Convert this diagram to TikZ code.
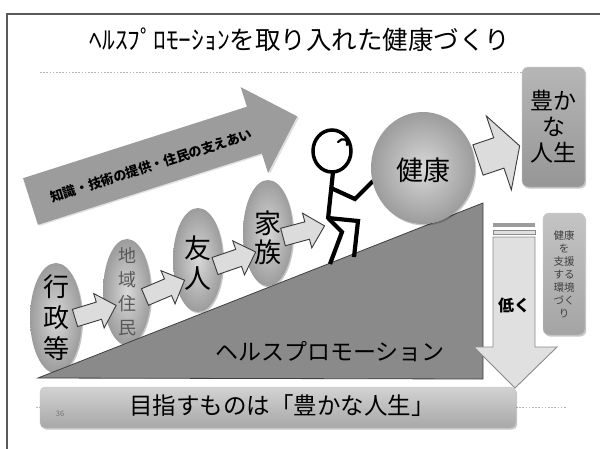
\documentclass[tikz,border=0pt]{standalone}
\usepackage{fontspec}
\setmainfont{Noto Sans CJK JP}
\usetikzlibrary{shapes.geometric,shadows}
\definecolor{framegray}{HTML}{5A5A5A}
\definecolor{dotgray}{HTML}{B4B4B4}
\definecolor{bandfill}{HTML}{9C9C9C}
\definecolor{ovalin}{HTML}{D8D8D8}
\definecolor{ovalout}{HTML}{9C9C9C}
\definecolor{rampfill}{HTML}{8A8A8A}
\definecolor{arrowface}{HTML}{DCDCDC}
\definecolor{arrowedge}{HTML}{3A3A3A}
\definecolor{boxtop}{HTML}{B6B6B6}
\definecolor{boxbottom}{HTML}{969696}
\definecolor{envtop}{HTML}{C4C4C4}
\definecolor{envbottom}{HTML}{A4A4A4}
\definecolor{bartop}{HTML}{D2D2D2}
\definecolor{barbottom}{HTML}{A8A8A8}
\definecolor{lowfill}{HTML}{E0E0E0}
\definecolor{lowedge}{HTML}{8A8A8A}

\begin{document}
\begin{tikzpicture}[x=1pt,y=-1pt,
  softshadow/.style={drop shadow={shadow xshift=1.2pt,shadow yshift=-1.5pt,opacity=.22,fill=black}},
  oval/.style={ellipse,inner sep=0pt,shading=radial,inner color=ovalin,outer color=ovalout,softshadow},
  ovaltext/.style={align=center,inner sep=0pt},
  facearrow/.style={fill=arrowface,draw=arrowedge,line width=0.9pt,line join=miter},
  roundbox/.style={rectangle,rounded corners=6pt,inner sep=0pt,top color=boxtop,bottom color=boxbottom,draw=gray!40,softshadow,align=center},
  dotrule/.style={dotgray,line width=0.8pt,dash pattern=on 1.6pt off 1.6pt},
  limb/.style={line width=4.2pt,line join=miter,line cap=butt},
  pics/blockarrow/.style n args={4}{code={
    \path[facearrow] (0,-#2) -- (#1-#4,-#2) -- (#1-#4,-#3) -- (#1,0)
      -- (#1-#4,#3) -- (#1-#4,#2) -- (0,#2) -- cycle;}}
]
\useasboundingbox (0,0) rectangle (600,448);
\fill[white] (0,0) rectangle (600,448);

% slide frame
\draw[framegray,line width=1.3pt] (7,450) -- (7,14) -- (602,14);

% title and rules
\node[font=\fontsize{25.5}{30}\selectfont] (title) at (300,40) {ﾍﾙｽﾌﾟﾛﾓｰｼｮﾝを取り入れた健康づくり};
\draw[dotrule] (40,72) -- (522,72);
\draw[dotrule] (36,407) -- (567,407);

% wide diagonal arrow
\begin{scope}[shift={(30.5,201.5)},rotate=17.7]
  \path[fill=black,opacity=.12] (1.5,-23) -- (236.5,-23) -- (236.5,-43.5) -- (281.5,1.5)
    -- (236.5,46.5) -- (236.5,26) -- (1.5,26) -- cycle;
  \path[fill=bandfill] (0,-24.5) -- (235,-24.5) -- (235,-45) -- (280,0)
    -- (235,45) -- (235,24.5) -- (0,24.5) -- cycle;
  \node[rotate=17.7,inner sep=0pt,font=\bfseries\fontsize{13.2}{14}\selectfont] (support) at (126,3) {知識・技術の提供・住民の支えあい};
\end{scope}

% actors along the slope
\node[oval,minimum width=52pt,minimum height=110pt] (gyosei) at (56,318) {};
\node[ovaltext,font=\fontsize{26}{31}\selectfont] (gyoseitext) at (gyosei) {行\\政\\等};
\node[oval,minimum width=48pt,minimum height=106pt] (chiiki) at (127,292) {};
\node[ovaltext,font=\fontsize{18}{24}\selectfont,text=black!65] (chiikitext) at (chiiki) {地\\域\\住\\民};
\node[oval,minimum width=50pt,minimum height=104pt] (yujin) at (198,260) {};
\node[ovaltext,font=\fontsize{27}{30}\selectfont] (yujintext) at ([yshift=-3pt]yujin) {友\\人};
\node[oval,minimum width=50pt,minimum height=106pt] (kazoku) at (268,233) {};
\node[ovaltext,font=\fontsize{27}{29}\selectfont] (kazokutext) at ([yshift=-5pt]kazoku) {家\\族};

% block arrows between actors
\pic[rotate=17] (a1) at (75,318) {blockarrow={43}{9}{18}{18}};
\pic[rotate=23] (a2) at (145,297) {blockarrow={43}{9}{18}{18}};
\pic[rotate=19] (a3) at (215,266) {blockarrow={43}{9}{18}{18}};
\pic[rotate=15] (a4) at (283,237) {blockarrow={43}{9}{18}{18}};

% ramp
\path[fill=rampfill,draw=black!75,line width=0.8pt] (38,378) -- (483,379) -- (483,203) -- cycle;
\node[font=\fontsize{23}{23}\selectfont] (hp) at (330,352) {ヘルスプロモーション};

% climber
\draw[line width=3.5pt] (332,151) ellipse (19pt and 21pt);
\draw[line width=2.2pt,line cap=round] (338,142) .. controls (342,137) and (349,139) .. (347,145);
\draw[limb] (333,172) -- (328,219);
\draw[limb] (331,188) -- (355,199) -- (373,181);
\draw[limb] (328,218) -- (358,221) -- (354,257);
\draw[limb] (328,218) -- (342,232) -- (330,264);

% health ball and goal
\node[oval,minimum width=104pt,minimum height=112pt] (kenko) at (423,168) {};
\node[ovaltext,font=\fontsize{27}{27}\selectfont] (kenkotext) at ([yshift=-2pt]kenko) {健康};
\pic[rotate=18.7] (a5) at (478,160) {blockarrow={44}{16}{39}{22}};
\node[roundbox,minimum width=63pt,minimum height=120pt,font=\fontsize{23}{26}\selectfont] (yutaka) at (553.5,127) {豊か\\な\\人生};
\node[roundbox,minimum width=42pt,minimum height=122pt,top color=envtop,bottom color=envbottom,font=\fontsize{10.5}{13}\selectfont,text=black!75] (kankyo) at (564,274) {健康\\を\\支援\\する\\環境\\づく\\り};

% bottom bar
\node[rectangle,rounded corners=5pt,minimum width=476pt,minimum height=41pt,top color=bartop,bottom color=barbottom,draw=gray!45,softshadow] (goal) at (278,407.5) {};
\node[font=\fontsize{23.5}{24}\selectfont] (goaltext) at (282,406) {目指すものは「豊かな人生」};
\node[font=\fontsize{7.5}{8}\selectfont,text=black!55] (pageno) at (60,414) {36};

% lowering arrow
\path[fill=bandfill] (493,223) rectangle (535,227);
\path[fill=lowfill,draw=lowedge,line width=0.8pt] (493,230) rectangle (535,234);
\path[fill=lowfill,draw=lowedge,line width=0.9pt] (493,237) -- (535,237) -- (535,347) -- (557,347)
  -- (515,388) -- (474,347) -- (493,347) -- cycle;
\node[font=\bfseries\fontsize{16}{16}\selectfont] (lowtext) at (514,305) {低く};
\end{tikzpicture}
\end{document}
